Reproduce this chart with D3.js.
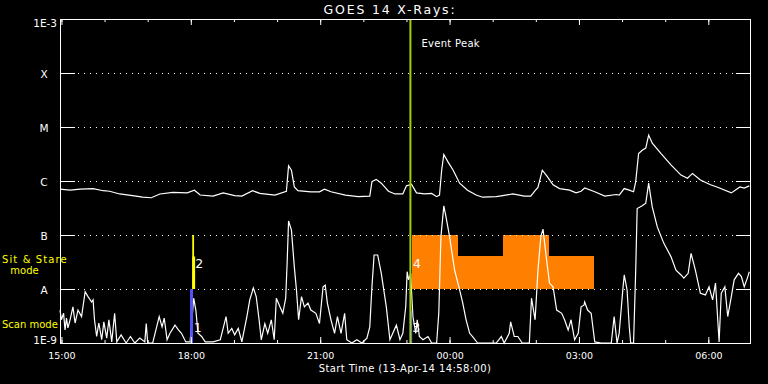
<!DOCTYPE html>
<html>
<head>
<meta charset="utf-8">
<title>GOES 14 X-Rays</title>
<script src="https://cdn.jsdelivr.net/npm/d3@7"></script>
<style>
  html, body { margin: 0; padding: 0; background: #000; }
  svg { display: block; }
  text { font-family: "DejaVu Sans", sans-serif; fill: #fff; }
</style>
</head>
<body>
<div id="chart"></div>
<script>
// plot window: 13-Apr-14 14:58 plus 16 hours
var startTime = new Date(2014, 3, 13, 14, 58);
var spanMinutes = 960;

// goes class levels (W/m^2) and their tick labels
var levels = [1e-3, 1e-4, 1e-5, 1e-6, 1e-7, 1e-8, 1e-9];
var levelLabels = ["1E-3", "X", "M", "C", "B", "A", "1E-9"];

// 1-8 A channel: [minutes after start, log10 flux]
var longChannel = [
  [0,-6.15],[14,-6.17],[28,-6.15],[46,-6.14],[60,-6.18],[69,-6.19],[83,-6.24],[101,-6.27],
  [115,-6.30],[127,-6.31],[139,-6.24],[157,-6.21],[177,-6.22],[187,-6.17],[195,-6.26],[213,-6.28],
  [227,-6.22],[243,-6.27],[253,-6.28],[268,-6.18],[278,-6.23],[299,-6.26],[315,-6.19],[318,-5.72],
  [322,-5.80],[326,-6.11],[331,-6.18],[349,-6.20],[361,-6.20],[368,-6.15],[377,-6.20],[397,-6.26],
  [415,-6.29],[431,-6.28],[434,-6.01],[440,-5.97],[447,-6.04],[457,-6.19],[466,-6.24],[477,-6.24],
  [482,-6.09],[487,-6.07],[489,-6.06],[496,-6.22],[507,-6.24],[517,-6.23],[524,-6.29],[528,-6.26],
  [531,-5.80],[534,-5.51],[540,-5.65],[547,-5.80],[556,-6.04],[567,-6.17],[579,-6.26],[588,-6.30],
  [607,-6.29],[616,-6.27],[630,-6.24],[646,-6.28],[655,-6.28],[661,-6.18],[665,-6.12],[671,-5.80],
  [677,-5.90],[686,-6.07],[695,-6.14],[709,-6.17],[718,-6.22],[725,-6.19],[730,-6.13],[744,-6.20],
  [758,-6.28],[774,-6.25],[778,-6.26],[785,-6.14],[792,-6.17],[798,-6.20],[801,-6.01],[805,-5.49],
  [810,-5.43],[815,-5.39],[819,-5.15],[824,-5.30],[836,-5.49],[850,-5.70],[864,-5.89],[873,-5.95],
  [880,-5.86],[891,-5.98],[905,-6.07],[914,-6.11],[934,-6.22],[946,-6.11],[952,-6.13],[959,-6.09]
];

// 0.5-4 A channel: [minutes after start, log10 flux]
var shortChannel = [
  [0,-8.39],[2,-8.57],[5,-8.45],[7,-8.76],[9,-8.54],[11,-8.72],[14,-8.57],[18,-8.33],[21,-8.63],
  [25,-8.39],[30,-8.51],[35,-8.05],[39,-8.14],[44,-8.24],[46,-8.20],[48,-8.57],[51,-8.88],[54,-8.63],
  [58,-8.94],[61,-8.61],[65,-8.91],[68,-8.57],[72,-8.98],[76,-8.45],[79,-8.98],[85,-8.85],[92,-9.0],
  [98,-8.88],[104,-9.0],[111,-8.91],[118,-8.98],[120,-8.64],[122,-9.0],[129,-9.0],[138,-8.51],
  [142,-8.70],[145,-8.54],[149,-8.94],[153,-8.82],[160,-8.67],[165,-8.76],[169,-8.82],[175,-8.98],
  [181,-8.98],[186,-8.17],[189,-8.39],[192,-8.82],[197,-8.88],[202,-8.98],[213,-8.98],[223,-8.94],
  [227,-8.73],[231,-8.51],[234,-8.82],[239,-8.73],[243,-8.85],[248,-8.73],[253,-8.98],[260,-8.51],
  [264,-8.20],[269,-7.98],[273,-8.14],[277,-8.57],[280,-8.94],[285,-8.64],[289,-8.82],[294,-8.57],
  [298,-8.94],[301,-8.17],[306,-8.33],[310,-8.45],[314,-8.17],[316,-7.52],[318,-6.74],[322,-6.91],
  [326,-7.59],[329,-8.02],[332,-8.57],[336,-8.14],[340,-8.33],[345,-8.26],[349,-8.39],[356,-8.45],
  [361,-8.64],[366,-7.96],[369,-7.93],[372,-8.26],[377,-8.57],[382,-8.82],[386,-8.51],[391,-8.82],
  [396,-8.45],[399,-8.94],[406,-9.0],[413,-8.94],[420,-9.0],[427,-8.91],[431,-8.70],[434,-7.96],
  [437,-7.37],[442,-7.37],[447,-7.71],[454,-8.33],[459,-8.94],[463,-8.82],[468,-8.67],[473,-8.94],
  [477,-8.82],[481,-8.33],[483,-7.68],[485,-7.83],[488,-7.71],[489,-8.02],[491,-8.51],[495,-8.82],
  [497,-8.57],[500,-8.88],[505,-8.94],[512,-8.88],[517,-9.0],[524,-9.0],[527,-8.45],[530,-7.03],
  [534,-6.46],[537,-6.66],[542,-7.03],[549,-7.65],[555,-7.96],[560,-8.24],[565,-8.57],[570,-8.82],
  [574,-8.88],[581,-9.0],[593,-9.0],[607,-9.0],[614,-8.88],[618,-9.0],[625,-8.82],[627,-8.61],
  [632,-8.88],[637,-8.88],[643,-9.0],[653,-9.0],[656,-8.17],[661,-8.57],[665,-7.65],[669,-7.03],
  [672,-6.89],[677,-7.46],[681,-7.89],[686,-7.96],[691,-8.39],[698,-8.45],[702,-8.57],[707,-8.76],
  [711,-8.57],[716,-8.94],[721,-8.82],[725,-8.33],[729,-8.30],[730,-8.24],[734,-8.39],[739,-8.45],
  [744,-8.98],[753,-9.0],[767,-9.0],[771,-8.51],[775,-9.0],[778,-8.82],[783,-8.02],[785,-7.74],
  [789,-8.02],[792,-8.70],[794,-9.0],[798,-9.0],[801,-7.65],[803,-6.51],[810,-6.46],[815,-6.41],
  [819,-6.04],[824,-6.48],[831,-6.85],[840,-7.15],[850,-7.40],[857,-7.65],[864,-7.74],[868,-7.80],
  [874,-7.71],[878,-7.34],[884,-7.65],[891,-8.08],[898,-8.11],[903,-7.96],[908,-8.20],[912,-7.89],
  [917,-8.98],[920,-8.08],[925,-7.96],[929,-8.51],[934,-8.14],[938,-7.83],[944,-7.71],[948,-7.77],
  [952,-7.96],[957,-7.77],[959,-7.68]
];

// observation blocks: [start min, end min, top flux, bottom flux]
var scanBlocks = [[181, 185, 1e-8, 1e-9], [488, 490, 4e-9, 1e-9]];
var stareBlocks = [[184, 186.5, 1e-7, 1e-8], [184, 188, 4e-8, 1e-8]];
var planBlocks = [[490, 554, 1e-7, 1e-8], [554, 617, 4e-8, 1e-8], [617, 681, 1e-7, 1e-8], [681, 743, 4e-8, 1e-8]];

// numbered labels: [label, minute, flux]
var obsLabels = [["1", 186, 1.6e-9], ["2", 188, 2.4e-8], ["3", 490, 1.6e-9], ["4", 491, 2.4e-8]];

var eventPeakMinute = 487.5;

window.onload = function() {

  var width = 768, height = 384;
  var left = 60, right = 750, top = 19, bottom = 343;

  function toDate(m) { return new Date(startTime.getTime() + m * 60000); }

  var x = d3.scaleTime()
      .domain([startTime, toDate(spanMinutes)])
      .range([left, right]);
  var y = d3.scaleLog()
      .domain([1e-9, 1e-3])
      .range([bottom, top]);

  var svg = d3.select("#chart").append("svg")
      .attr("width", width)
      .attr("height", height)
      .style("background", "#000");

  // orange planned blocks
  svg.append("g").selectAll("rect").data(planBlocks).join("rect")
      .attr("x", d => x(toDate(d[0])))
      .attr("width", d => x(toDate(d[1])) - x(toDate(d[0])))
      .attr("y", d => y(d[2]))
      .attr("height", d => y(d[3]) - y(d[2]))
      .attr("fill", "#ff8000")
      .attr("shape-rendering", "crispEdges");

  // dotted level lines
  svg.append("g").selectAll("line").data(levels.slice(1, 6)).join("line")
      .attr("x1", left + 18).attr("x2", right - 14)
      .attr("y1", d => Math.round(y(d)) + 0.5).attr("y2", d => Math.round(y(d)) + 0.5)
      .attr("stroke", "#fff")
      .attr("stroke-dasharray", "1,5")
      .attr("shape-rendering", "crispEdges");

  // the two x-ray curves
  var line = d3.line()
      .x(d => x(toDate(d[0])))
      .y(d => y(Math.pow(10, d[1])));

  svg.append("path").datum(longChannel)
      .attr("d", line).attr("fill", "none").attr("stroke", "#fff").attr("stroke-width", 1.2);
  svg.append("path").datum(shortChannel)
      .attr("d", line).attr("fill", "none").attr("stroke", "#fff").attr("stroke-width", 1.2);

  // scan (blue) and sit & stare (yellow) marks
  function blocks(data, colour) {
    svg.append("g").selectAll("rect").data(data).join("rect")
        .attr("x", d => x(toDate(d[0])))
        .attr("width", d => x(toDate(d[1])) - x(toDate(d[0])))
        .attr("y", d => y(d[2]))
        .attr("height", d => y(d[3]) - y(d[2]))
        .attr("fill", colour);
  }
  blocks(scanBlocks, "#5555ff");
  blocks(stareBlocks, "#ffff00");

  svg.append("g").selectAll("text").data(obsLabels).join("text")
      .attr("x", d => x(toDate(d[1])))
      .attr("y", d => y(d[2]))
      .attr("font-size", 12.5)
      .text(d => d[0]);

  // event peak marker
  svg.append("line")
      .attr("x1", x(toDate(eventPeakMinute))).attr("x2", x(toDate(eventPeakMinute)))
      .attr("y1", top).attr("y2", bottom)
      .attr("stroke", "#a0d000").attr("stroke-width", 2);
  svg.append("text")
      .attr("x", x(toDate(eventPeakMinute)) + 11).attr("y", 47)
      .attr("font-size", 10).attr("letter-spacing", 0.3)
      .text("Event Peak");

  // axes
  var hours = d3.timeHour.every(1), threeHours = d3.timeHour.every(3);

  svg.append("g").attr("transform", `translate(0,${bottom})`)
      .call(d3.axisBottom(x).ticks(hours).tickSize(-3).tickFormat(""));
  svg.append("g").attr("transform", `translate(0,${bottom})`)
      .call(d3.axisBottom(x).ticks(threeHours).tickSize(-6).tickPadding(9).tickFormat(d3.timeFormat("%H:%M")))
      .selectAll("text").attr("font-size", 9.5).attr("fill", "#fff");
  svg.append("g").attr("transform", `translate(0,${top})`)
      .call(d3.axisTop(x).ticks(hours).tickSize(-3).tickFormat(""));
  svg.append("g").attr("transform", `translate(0,${top})`)
      .call(d3.axisTop(x).ticks(threeHours).tickSize(-6).tickFormat(""));

  var yl = svg.append("g").attr("transform", `translate(${left},0)`)
      .call(d3.axisLeft(y).tickValues(levels).tickSize(-15)
        .tickFormat((d, i) => levelLabels[i]));
  yl.selectAll("text")
      .attr("font-size", 10.5).attr("fill", "#fff")
      .attr("text-anchor", (d, i) => levelLabels[i].length > 1 ? "end" : "middle")
      .attr("x", (d, i) => levelLabels[i].length > 1 ? -3 : -16)
      .attr("dy", (d, i) => i == 0 ? "0.75em" : (i == levels.length - 1 ? "0em" : "0.4em"));
  svg.append("g").attr("transform", `translate(${right},0)`)
      .call(d3.axisRight(y).tickValues(levels).tickSize(-14).tickFormat(""));

  svg.selectAll(".domain").remove();
  svg.selectAll(".tick line").attr("stroke", "#fff");
  svg.selectAll(".tick text").attr("fill", "#fff");

  // frame
  svg.append("rect")
      .attr("x", left + 0.5).attr("y", top + 0.5)
      .attr("width", right - left).attr("height", bottom - top)
      .attr("fill", "none").attr("stroke", "#fff")
      .attr("shape-rendering", "crispEdges");

  // titles
  svg.append("text")
      .attr("x", 390).attr("y", 14)
      .attr("text-anchor", "middle")
      .attr("font-size", 12.5).attr("letter-spacing", 1.8)
      .text("GOES 14 X-Rays:");
  svg.append("text")
      .attr("x", 405).attr("y", 372)
      .attr("text-anchor", "middle")
      .attr("font-size", 10).attr("letter-spacing", 0.4)
      .text("Start Time (13-Apr-14 14:58:00)");

  // mode labels on the left
  svg.append("text").attr("x", 2).attr("y", 263)
      .attr("font-size", 10).attr("letter-spacing", 1.1).style("fill", "#ffff00")
      .text("Sit & Stare");
  svg.append("text").attr("x", 24.5).attr("y", 274)
      .attr("text-anchor", "middle")
      .attr("font-size", 10).style("fill", "#ffff00")
      .text("mode");
  svg.append("text").attr("x", 2).attr("y", 327.5)
      .attr("font-size", 10).style("fill", "#ffff00")
      .text("Scan mode");
};
</script>
</body>
</html>
